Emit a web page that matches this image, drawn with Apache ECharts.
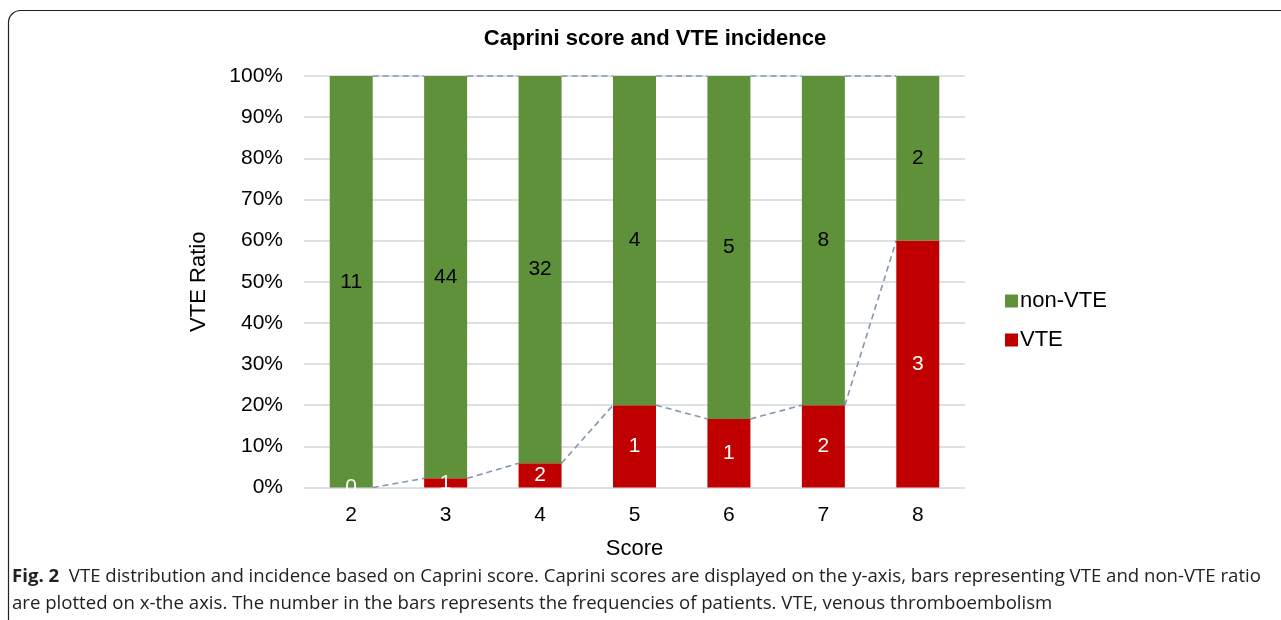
<!DOCTYPE html>
<html>
<head>
<meta charset="utf-8">
<script src="https://cdn.jsdelivr.net/npm/echarts@6/dist/echarts.min.js"></script>
<style>
html,body{margin:0;padding:0;background:#fff;}
#chart{width:1281px;height:620px;}
</style>
</head>
<body>
<div id="chart"></div>
<script>
// ---- data ----
const categories = ['2', '3', '4', '5', '6', '7', '8'];
const vteCounts = [0, 1, 2, 1, 1, 2, 3];
const nonVteCounts = [11, 44, 32, 4, 5, 8, 2];
const seriesNames = ['VTE', 'non-VTE'];
const titleText = 'Caprini score and VTE incidence';
const xAxisName = 'Score';
const yAxisName = 'VTE Ratio';
const captionBold = 'Fig. 2';
const captionLine1 = 'VTE distribution and incidence based on Caprini score. Caprini scores are displayed on the y-axis, bars representing VTE and non-VTE ratio';
const captionLine2 = 'are plotted on x-the axis. The number in the bars represents the frequencies of patients. VTE, venous thromboembolism';

// 100% stacked: share of each group within a score
const vteRatio = vteCounts.map((v, i) => v / (v + nonVteCounts[i]) * 100);
const nonVteRatio = nonVteCounts.map((v, i) => v / (vteCounts[i] + v) * 100);

const BAR_W = 43;
const FONT = 'Liberation Sans, Arial, sans-serif';
const CAP_FONT = 'Open Sans, sans-serif';

// series lines between consecutive bars (bar edges)
const linkData = [];
for (let i = 0; i < categories.length - 1; i++) {
  linkData.push([i, vteRatio[i], i + 1, vteRatio[i + 1]]);
}

const chart = echarts.init(document.getElementById('chart'), null, {renderer: 'canvas'});
chart.setOption({
  animation: false,
  backgroundColor: '#ffffff',
  title: {
    text: titleText,
    left: 650, textAlign: 'center',
    top: 23,
    textStyle: {fontFamily: FONT, fontSize: 22, fontWeight: 'bold', color: '#000'}
  },
  legend: {
    data: ['non-VTE', 'VTE'],
    orient: 'vertical',
    left: 1000,
    top: 285,
    itemWidth: 13,
    itemHeight: 13,
    itemGap: 17,
    icon: 'rect',
    textStyle: {fontFamily: FONT, fontSize: 22, color: '#000', padding: [0, 0, 0, -3]}
  },
  grid: {left: 304, right: 316, top: 76, bottom: 132.5, containLabel: false},
  xAxis: {
    type: 'category',
    data: categories,
    axisLine: {show: false},
    axisTick: {show: false},
    axisLabel: {fontFamily: FONT, fontSize: 21, color: '#000', margin: 17},
    name: xAxisName,
    nameLocation: 'middle',
    nameGap: 50,
    nameTextStyle: {fontFamily: FONT, fontSize: 22, color: '#000'}
  },
  yAxis: {
    type: 'value',
    min: 0, max: 100, interval: 10,
    axisLine: {show: false},
    axisTick: {show: false},
    axisLabel: {fontFamily: FONT, fontSize: 21, color: '#000', margin: 21, formatter: '{value}%'},
    splitLine: {lineStyle: {color: '#DCE1E8', width: 2}},
    name: yAxisName,
    nameLocation: 'middle',
    nameGap: 94,
    nameRotate: 90,
    nameTextStyle: {fontFamily: FONT, fontSize: 22, color: '#000'}
  },
  series: [
    {
      name: 'VTE', type: 'bar', stack: 'total', barWidth: BAR_W,
      data: vteRatio,
      itemStyle: {color: '#C00000'},
      z: 3,
      label: {
        show: true, position: 'inside', color: '#fff',
        fontFamily: FONT, fontSize: 21,
        formatter: p => String(vteCounts[p.dataIndex])
      }
    },
    {
      name: 'non-VTE', type: 'bar', stack: 'total', barWidth: BAR_W,
      data: nonVteRatio,
      itemStyle: {color: '#5E9139'},
      z: 3,
      label: {
        show: true, position: 'inside', color: '#000',
        fontFamily: FONT, fontSize: 21,
        formatter: p => String(nonVteCounts[p.dataIndex])
      }
    },
    {
      name: 'lines', type: 'custom',
      data: linkData,
      encode: {x: [0, 2], y: [1, 3]},
      silent: true,
      z: 2,
      renderItem: function (params, api) {
        const half = BAR_W / 2;
        const a = api.coord([api.value(0), api.value(1)]);
        const b = api.coord([api.value(2), api.value(3)]);
        const ta = api.coord([api.value(0), 100]);
        const tb = api.coord([api.value(2), 100]);
        const style = {stroke: '#8497B0', lineWidth: 1.6, lineDash: [6, 4], fill: null};
        return {
          type: 'group',
          children: [
            {type: 'line', shape: {x1: a[0] + half, y1: a[1], x2: b[0] - half, y2: b[1]}, style: style},
            {type: 'line', shape: {x1: ta[0] + half, y1: ta[1], x2: tb[0] - half, y2: tb[1]}, style: style}
          ]
        };
      }
    }
  ],
  graphic: [
    {
      type: 'rect', z: -1,
      shape: {x: 8.5, y: 10.5, width: 1400, height: 800, r: 12},
      style: {fill: null, stroke: '#222', lineWidth: 1.2}
    },
    {
      type: 'text', left: 12, top: 567,
      style: {
        text: '{b|' + captionBold + '}  ' + captionLine1,
        fontFamily: CAP_FONT, fontSize: 18.6, fill: '#222',
        rich: {b: {fontFamily: CAP_FONT, fontSize: 18.6, fontWeight: 'bold', fill: '#222'}}
      }
    },
    {
      type: 'text', left: 12, top: 594,
      style: {
        text: captionLine2,
        fontFamily: CAP_FONT, fontSize: 18.6, fill: '#222'
      }
    }
  ]
});
</script>
</body>
</html>
